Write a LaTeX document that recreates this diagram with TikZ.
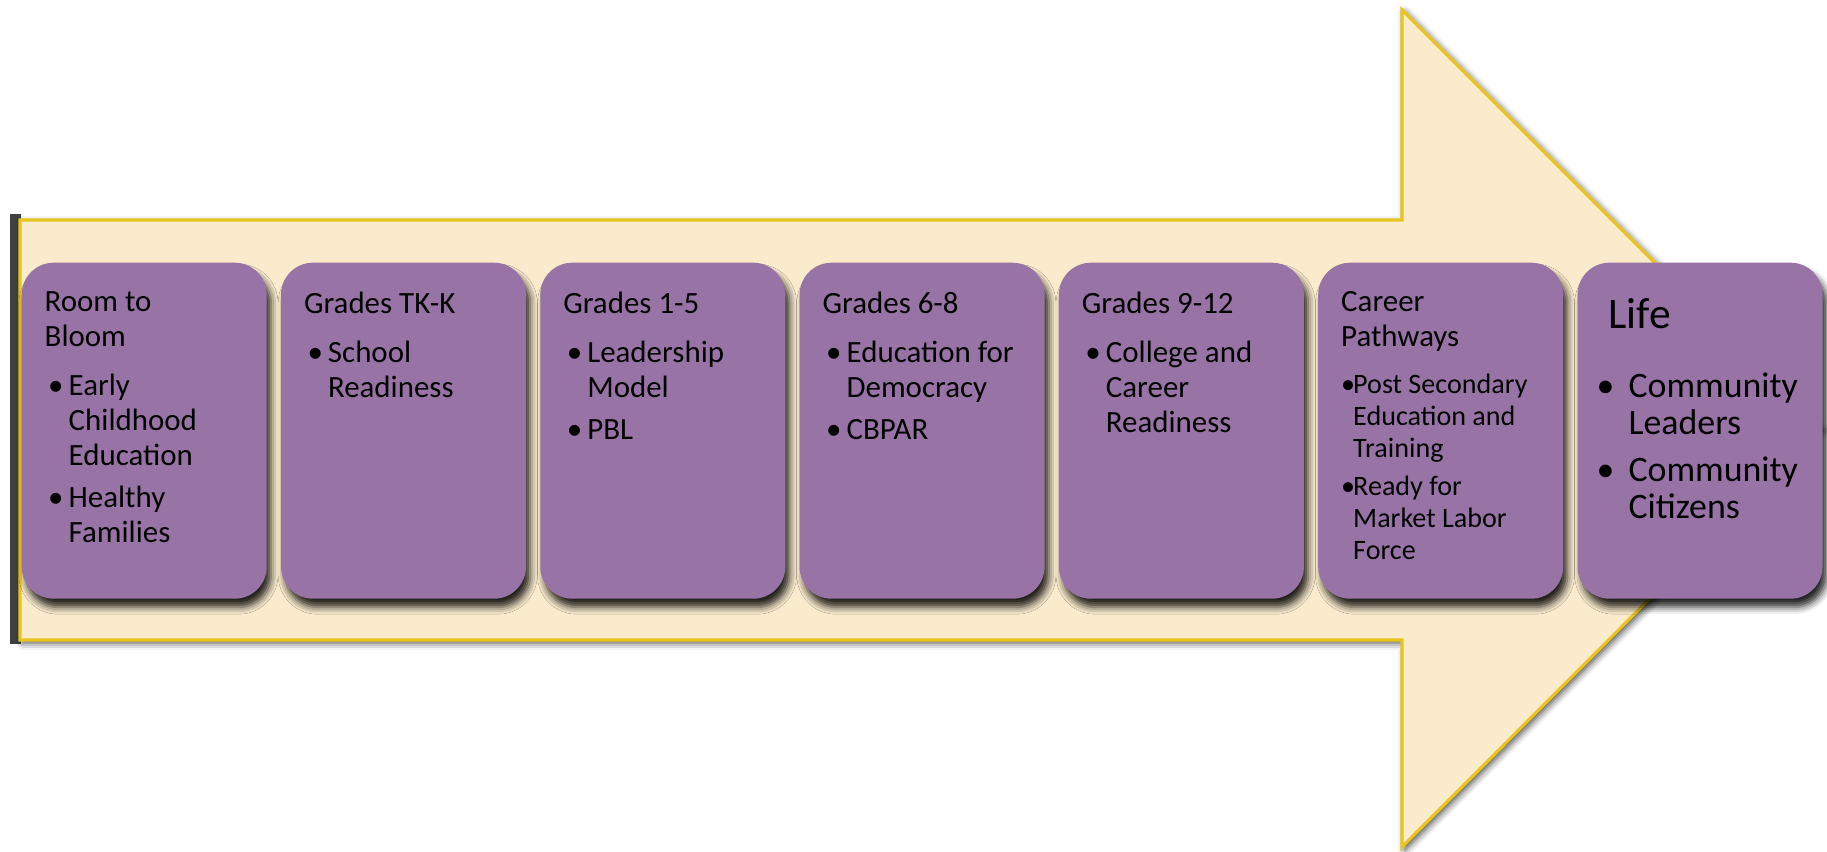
\documentclass[tikz,border=0pt]{standalone}
\usepackage{fontspec}
\setmainfont{Carlito}
\usetikzlibrary{shadows.blur}
\definecolor{arrowfill}{RGB}{250,235,205}
\definecolor{arrowline}{RGB}{232,196,28}
\definecolor{stagepurple}{RGB}{152,116,166}
\tikzset{
    stage/.style={fill=stagepurple, rounded corners=0.32cm, anchor=north west,
        inner xsep=0.23cm, inner ysep=0.29cm, align=left,
        blur shadow={shadow xshift=1.2pt, shadow yshift=-2.4pt,
            shadow blur radius=2pt, shadow opacity=85}},
    bigarrow/.style={fill=arrowfill, draw=arrowline, line width=0.9pt,
        blur shadow={shadow xshift=0.8pt, shadow yshift=-0.8pt,
            shadow blur radius=2pt, shadow opacity=75}}
}
\newcommand\stagebox[1]{\parbox[t][2.78cm][t]{1.99cm}{\parskip=0pt
    \fontsize{8.8pt}{9.96pt}\selectfont #1}}
\newcommand\itm{\par\vspace{2pt}\hangindent=0.24cm\hangafter=1\noindent
    \hspace*{0.035cm}\makebox[0.205cm][l]{\textbullet}}
\newcommand\smallitm{\par\vspace{1.7pt}\hangindent=0.12cm\hangafter=1\noindent
    \hspace*{0.0cm}\makebox[0.12cm][l]{\textbullet}}
\newcommand\lifeitm{\par\vspace{2.7pt}\hangindent=0.28cm\hangafter=1\noindent
    \hspace*{-0.04cm}\makebox[0.32cm][l]{\textbullet}}

\begin{document}
\begin{tikzpicture}[x=1cm, y=1cm]
	\useasboundingbox (0,0) rectangle (18.27,8.52);
	% the big arrow
	\fill[black!75] (0.10,2.08) rectangle (0.21,6.38);
	\path[bigarrow] (0.20,6.32) -- (14.02,6.32) -- (14.02,8.42) -- (18.20,4.24)
		-- (14.02,0.05) -- (14.02,2.12) -- (0.20,2.12) -- cycle;

	% the stages
	\node (bloom) [stage] at (0.21,5.90) {\stagebox{Room to\newline Bloom\par\vspace{2pt}
		\itm Early\newline Childhood\newline Education\itm Healthy\newline Families}};
	\node (tk) [stage] at (2.803,5.90) {\stagebox{Grades TK-K\par\vspace{2pt}
		\itm School\newline Readiness}};
	\node (elem) [stage] at (5.396,5.90) {\stagebox{Grades 1-5\par\vspace{2pt}
		\itm Leadership\newline Model\itm PBL}};
	\node (middle) [stage] at (7.989,5.90) {\stagebox{Grades 6-8\par\vspace{2pt}
		\itm Education for\newline Democracy\itm CBPAR}};
	\node (high) [stage] at (10.582,5.90) {\stagebox{Grades 9-12\par\vspace{2pt}
		\itm College and\newline Career\newline Readiness}};
	\node (career) [stage] at (13.175,5.90) {\stagebox{Career\newline Pathways\par\vspace{2.6pt}
		\fontsize{8pt}{9.1pt}\selectfont
		\smallitm Post Secondary\newline Education and\newline Training%
		\smallitm Ready for\newline Market Labor\newline Force}};
	\node (life) [stage] at (15.768,5.90) {\stagebox{\vspace*{0.07cm}\hspace*{0.08cm}%
		\fontsize{12.4pt}{13pt}\selectfont Life\par\vspace{6.5pt}
		\fontsize{10.2pt}{10.5pt}\selectfont
		\lifeitm Community\newline Leaders\lifeitm Community\newline Citizens}};
\end{tikzpicture}
\end{document}
